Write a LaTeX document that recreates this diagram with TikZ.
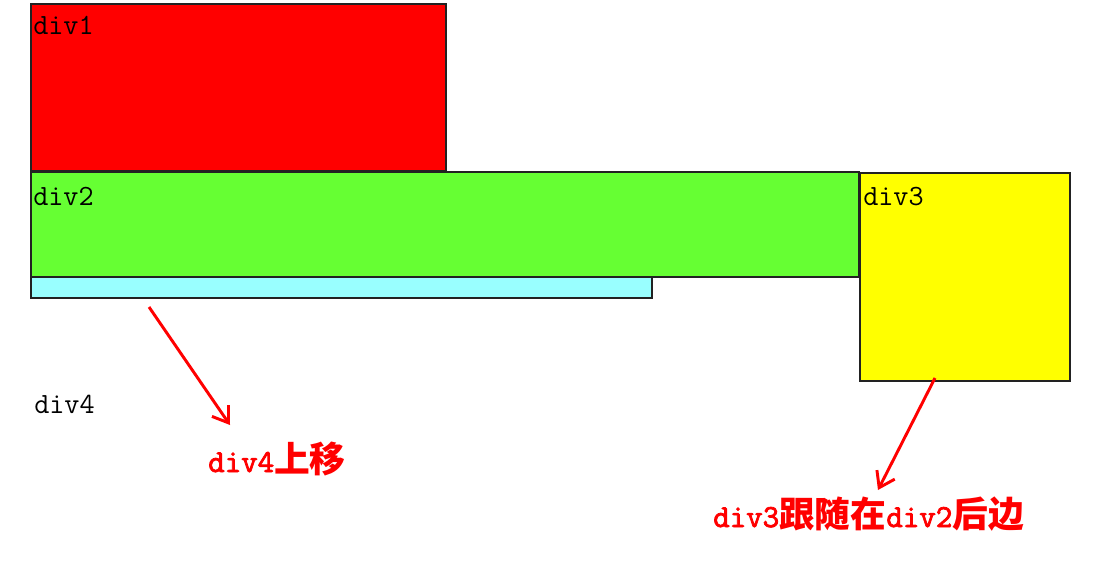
\documentclass[tikz,border=0pt]{standalone}
\usepackage{fontspec}
\newfontfamily\cjk{Noto Sans CJK SC}
\newfontfamily\redtt{Latin Modern Mono}[FakeBold=2.5]
\usetikzlibrary{arrows.meta}
\definecolor{boxred}{HTML}{FF0000}
\definecolor{boxgreen}{HTML}{66FF33}
\definecolor{boxcyan}{HTML}{99FFFF}
\definecolor{boxyellow}{HTML}{FFFF00}
\definecolor{edge}{HTML}{222222}
\newcommand{\cj}[1]{{\cjk\bfseries\fontsize{26.8}{29}\selectfont #1}}
\begin{document}
\begin{tikzpicture}[x=0.75pt,y=-0.75pt,
  divbox/.style={draw=edge,line width=1.3pt,anchor=north west,inner sep=0pt,outer sep=0pt},
  divlabel/.style={anchor=base west,inner sep=0pt,font=\ttfamily\fontsize{22}{24}\selectfont},
  note/.style={anchor=base west,inner sep=0pt,text=boxred,font=\redtt\fontsize{24}{26}\selectfont},
  redarrow/.style={draw=boxred,line width=2.2pt,-{Straight Barb[length=11pt,width=15pt]}}]
\useasboundingbox (0,0) rectangle (1108,578);
\fill[white] (0,0) rectangle (1108,578);
\node[divbox,fill=boxcyan,minimum width=621*0.75pt,minimum height=21*0.75pt] (div4) at (31,277) {};
\node[divbox,fill=boxred,minimum width=415*0.75pt,minimum height=167*0.75pt] (div1) at (31,4) {};
\node[divbox,fill=boxgreen,minimum width=828*0.75pt,minimum height=105*0.75pt] (div2) at (31,172) {};
\node[divbox,fill=boxyellow,minimum width=210*0.75pt,minimum height=208*0.75pt] (div3) at (860,173) {};
\node[divlabel] (t1) at (33,35) {div1};
\node[divlabel] (t2) at (33,205) {div2};
\node[divlabel] (t3) at (863,205) {div3};
\node[divlabel] (t4) at (34,413) {div4};
\node[note] (n1) at (208,472) {div4\cj{上移}};
\node[note] (n2) at (713,527) {div3\cj{跟随在}div2\cj{后边}};
\coordinate (a1s) at (149,307);
\coordinate (a1e) at (230,425);
\coordinate (a2s) at (935,378);
\coordinate (a2e) at (878,490);
\draw[redarrow] (a1s) -- (a1e);
\draw[redarrow] (a2s) -- (a2e);
\end{tikzpicture}
\end{document}
